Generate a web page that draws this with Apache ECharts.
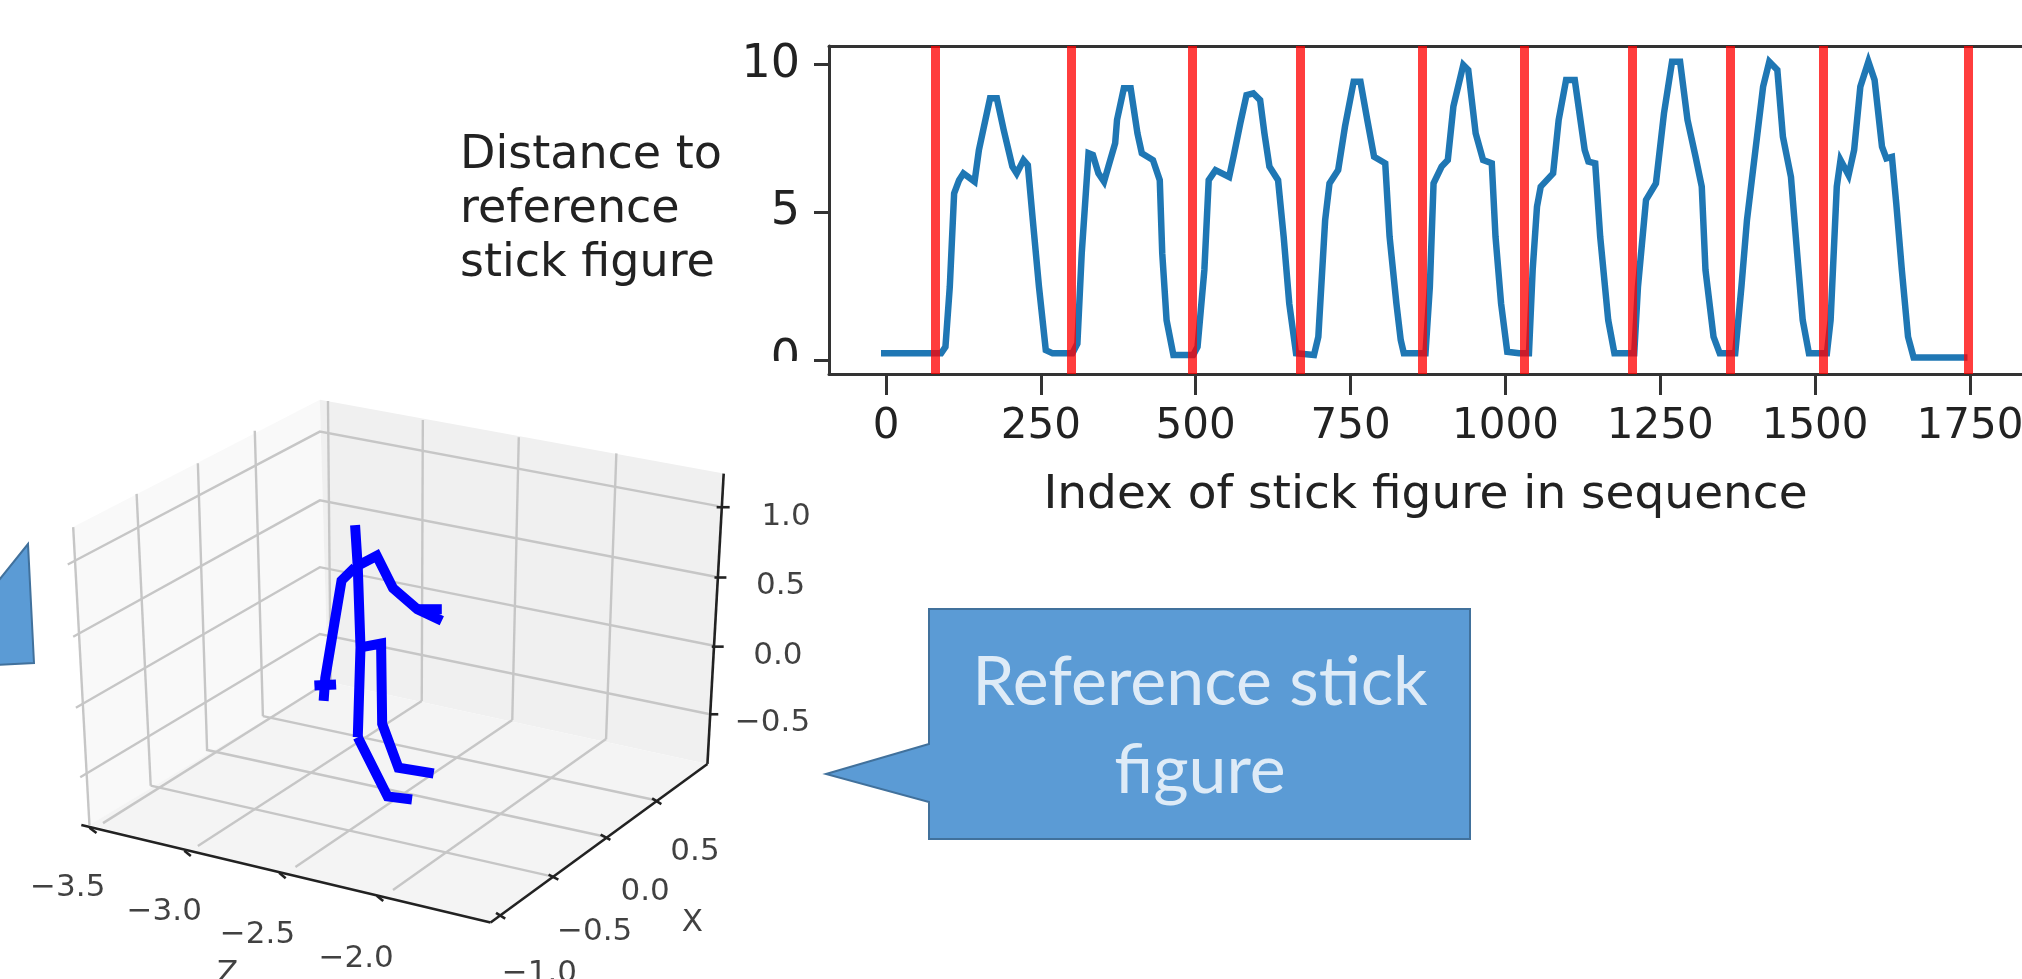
<!DOCTYPE html>
<html><head><meta charset="utf-8">
<style>html,body{margin:0;padding:0;background:#fff}#c{width:2022px;height:979px}</style>
<script src="https://cdn.jsdelivr.net/npm/echarts@6/dist/echarts.min.js"></script>
</head><body><div id="c"></div>
<script>
// ---------- distance chart data ----------
const xTicks = [0,250,500,750,1000,1250,1500,1750];
const yTicks = [0,5,10];
const redLines = [80,299,494,668,865,1031,1204,1363,1513,1748];
const distance = [[-8,.23],[89,.23],[96,.45],[103,2.48],[110,5.64],[118,6.09],[125,6.32],[143,6.04],[150,7.11],[157,7.79],[168,8.86],[179,8.86],[190,7.79],[204,6.55],[211,6.32],[222,6.77],[229,6.6],[237,4.74],[247,2.48],[258,.34],[269,.23],[301,.23],[309,.56],[316,3.61],[327,7.0],[334,6.94],[343,6.32],[352,6.04],[359,6.55],[370,7.34],[373,8.13],[384,9.2],[395,9.2],[406,7.67],[413,7],[431,6.77],[442,6.09],[446,3.61],[453,1.35],[464,.17],[496,.17],[503,.45],[514,3.05],[521,6.09],[532,6.43],[554,6.2],[561,6.88],[572,8.01],[582,8.97],[593,9.03],[604,8.8],[611,7.67],[619,6.55],[633,6.09],[642,4.18],[651,1.92],[662,.23],[691,.17],[698,.79],[709,4.74],[716,5.98],[730,6.43],[741,7.9],[755,9.42],[766,9.42],[777,8.13],[788,6.88],[806,6.66],[813,4.18],[824,1.92],[831,.68],[836,.23],[871,.23],[878,2.48],[884,5.98],[897,6.55],[907,6.77],[916,8.58],[932,9.99],[940,9.82],[952,7.67],[964,6.77],[978,6.66],[984,4.18],[993,1.92],[1003,.28],[1022,.23],[1038,.23],[1044,3.05],[1051,5.19],[1057,5.87],[1077,6.32],[1086,8.13],[1098,9.48],[1112,9.48],[1128,7.11],[1134,6.72],[1145,6.66],[1153,4.18],[1166,1.35],[1176,.23],[1208,.23],[1214,2.48],[1227,5.42],[1243,5.98],[1256,8.35],[1269,10.1],[1282,10.1],[1294,8.13],[1307,6.88],[1317,5.87],[1323,3.05],[1336,.79],[1346,.23],[1371,.23],[1381,2.48],[1390,4.74],[1403,7],[1416,9.25],[1426,10.1],[1439,9.82],[1448,7.56],[1461,6.2],[1471,3.61],[1480,1.35],[1490,.23],[1519,.23],[1525,1.35],[1535,5.87],[1541,6.77],[1554,6.26],[1563,7.11],[1573,9.25],[1586,10.1],[1596,9.48],[1608,7.22],[1615,6.83],[1624,6.88],[1631,5.3],[1640,3.05],[1650,.79],[1659,.09],[1746,.09]];

// ---------- 3D scene in scene units ----------
const paneLeft  = [[135,385],[590,52],[605,790],[165,1165]];
const paneRight = [[590,52],[1335,245],[1305,1005],[605,790]];
const paneFloor = [[165,1165],[605,790],[1305,1005],[905,1420]];
const sceneGrid = [
 [[135,385],[165,1165]],[[252,298],[278,1062]],[[365,218],[382,968]],[[470,133],[485,880]],[[605,55],[610,790]],
 [[780,105],[778,840]],[[957,150],[945,890]],[[1137,192],[1118,940]],
 [[125,483],[590,135],[1325,330]],[[135,672],[590,315],[1320,515]],[[140,858],[590,490],[1315,695]],[[148,1040],[590,665],[1310,875]],
 [[485,880],[1210,1100]],[[380,968],[1115,1195]],[[278,1062],[1020,1300]],
 [[778,840],[365,1220]],[[945,890],[545,1275]],[[1118,940],[725,1335]],[[605,790],[190,1160]]
];
const sceneAxes = [
 [[1335,245],[1305,1005]],[[150,1165],[905,1420]],[[905,1420],[1305,1005]],
 [[1322,333],[1346,333]],[[1318,517],[1340,517]],[[1313,698],[1335,698]],[[1308,875],[1325,875]],
 [[165,1172],[178,1186]],[[340,1232],[352,1246]],[[515,1290],[527,1304]],[[695,1350],[707,1364]],
 [[915,1395],[932,1410]],[[1012,1295],[1030,1308]],[[1108,1190],[1126,1204]],[[1203,1095],[1220,1110]]
];
const stickLimbs = [
 [[655,380],[660,490],[665,700],[660,935]],
 [[655,490],[695,460],[725,545],[770,600],[815,630]],
 [[770,600],[815,600]],
 [[655,490],[630,525],[600,780],[597,840]],
 [[580,800],[620,797]],
 [[665,700],[703,690],[705,900],[735,1015],[800,1030]],
 [[660,935],[715,1090],[760,1098]]
];
const sceneLabels = [
 [1450,358,'1.0'],[1440,540,'0.5'],[1435,722,'0.0'],[1425,897,'\u22120.5'],
 [125,1330,'\u22123.5'],[303,1392,'\u22123.0'],[475,1452,'\u22122.5'],[657,1515,'\u22122.0'],
 [1282,1235,'0.5'],[1190,1340,'0.0'],[1097,1445,'\u22120.5'],[995,1556,'\u22121.0'],
 [1277,1420,'X'],[420,1556,'Z']
];
// ---------- callouts, in page units ----------
const calloutRight = [[929,609],[1470,609],[1470,839],[929,839],[929,802],[826,774],[929,744]];
const calloutLeft  = [[-5,585],[28,544],[34,663],[-5,665]];
const calloutLabel = [[1200,727,'Reference stick\nfigure']];

const font = 'DejaVu Sans';
const polygons = (list, fill, stroke, xi, z) => ({
  type:'custom', xAxisIndex:xi, yAxisIndex:xi-1, z, silent:true, clip:false,
  data:list.map((_,i)=>[i]),
  renderItem:(p,api)=>({type:'polygon',shape:{points:list[p.dataIndex].map(q=>api.coord(q))},
    style:{fill,stroke,lineWidth:stroke?2:0}})
});
const polylines = (list, color, width, xi, z) => ({
  type:'custom', xAxisIndex:xi, yAxisIndex:xi-1, z, silent:true, clip:false,
  data:list.map((_,i)=>[i]),
  renderItem:(p,api)=>({type:'polyline',shape:{points:list[p.dataIndex].map(q=>api.coord(q))},
    style:{fill:null,stroke:color,lineWidth:width}})
});
const hiddenAxis = (gridIndex,max,inverse)=>({type:'value',gridIndex,min:0,max,inverse,show:false,splitLine:{show:false}});

const series = [
  {type:'line',xAxisIndex:0,yAxisIndex:0,data:distance,showSymbol:false,silent:true,z:3,
   lineStyle:{color:'#1f77b4',width:6.5,join:'miter'},
   markLine:{silent:true,symbol:'none',label:{show:false},animation:false,
     lineStyle:{color:'rgba(255,0,0,0.76)',width:9,type:'solid'},
     data:redLines.map(v=>({xAxis:v}))}},
  polygons([paneLeft],'#f9f9f9',null,2,2),
  polygons([paneRight],'#f0f0f0',null,2,2),
  polygons([paneFloor],'#f4f4f4',null,2,2),
  polylines(sceneGrid,'#c6c6c6',2.4,2,3),
  polylines(sceneAxes,'#222222',2.6,2,4),
  ...stickLimbs.map(l=>({type:'line',xAxisIndex:2,yAxisIndex:1,data:l,showSymbol:false,silent:true,clip:false,z:5,
    lineStyle:{color:'#0000ff',width:10,cap:'butt',join:'miter'}})),
  {type:'scatter',xAxisIndex:2,yAxisIndex:1,data:sceneLabels,symbolSize:0,silent:true,clip:false,z:6,
    label:{show:true,position:'inside',formatter:p=>p.value[2],color:'#111',fontFamily:font,fontSize:31}},
  polygons([calloutRight,calloutLeft],'#5b9bd5','#41719c',3,7),
  {type:'scatter',xAxisIndex:3,yAxisIndex:2,data:calloutLabel,symbolSize:0,silent:true,clip:false,z:8,
    label:{show:true,position:'inside',formatter:p=>p.value[2],color:'#fff',fontFamily:'Lato',fontSize:68,lineHeight:88}}
];

const chart = echarts.init(document.getElementById('c'),null,{renderer:'canvas'});
const spine = {show:true,onZero:false,lineStyle:{color:'#333',width:3}};
chart.setOption({
  animation:false,backgroundColor:'#fff',
  grid:[{left:829,right:0,top:46,bottom:979-374,outerBoundsMode:'none'},
        {left:0,top:380,width:850,height:599,outerBoundsMode:'none'},
        {left:0,top:0,width:2022,height:979,outerBoundsMode:'none'}],
  xAxis:[
    {type:'value',gridIndex:0,min:-92,max:1834,axisLine:spine,splitLine:{show:false},
     axisTick:{show:true,length:21,lineStyle:{color:'#333',width:3},customValues:xTicks},
     axisLabel:{customValues:xTicks,formatter:v=>String(v),color:'#222',fontFamily:font,fontSize:42,margin:32},
     name:'Index of stick figure in sequence',nameLocation:'middle',nameGap:98,
     nameTextStyle:{color:'#222',fontFamily:font,fontSize:47}},
    {type:'value',gridIndex:0,min:-92,max:1834,position:'top',axisLine:spine,axisTick:{show:false},axisLabel:{show:false},splitLine:{show:false}},
    hiddenAxis(1,1568,false),
    hiddenAxis(2,2022,false)
  ],
  yAxis:[
    {type:'value',gridIndex:0,min:-0.47,max:10.63,axisLine:spine,splitLine:{show:false},
     axisTick:{show:true,length:15,lineStyle:{color:'#333',width:3},customValues:yTicks},
     axisLabel:{customValues:yTicks,color:'#222',fontFamily:font,fontSize:46,margin:29},
     name:'Distance to\nreference\nstick figure',nameLocation:'middle',nameRotate:0,nameGap:369,
     nameTextStyle:{color:'#222',fontFamily:font,fontSize:46,align:'left',lineHeight:54}},
    hiddenAxis(1,1568,true),
    hiddenAxis(2,979,true)
  ],
  graphic:[{type:'rect',z:100,silent:true,shape:{x:700,y:361,width:112,height:40},style:{fill:'#fff'}}],
  series
});
</script></body></html>
